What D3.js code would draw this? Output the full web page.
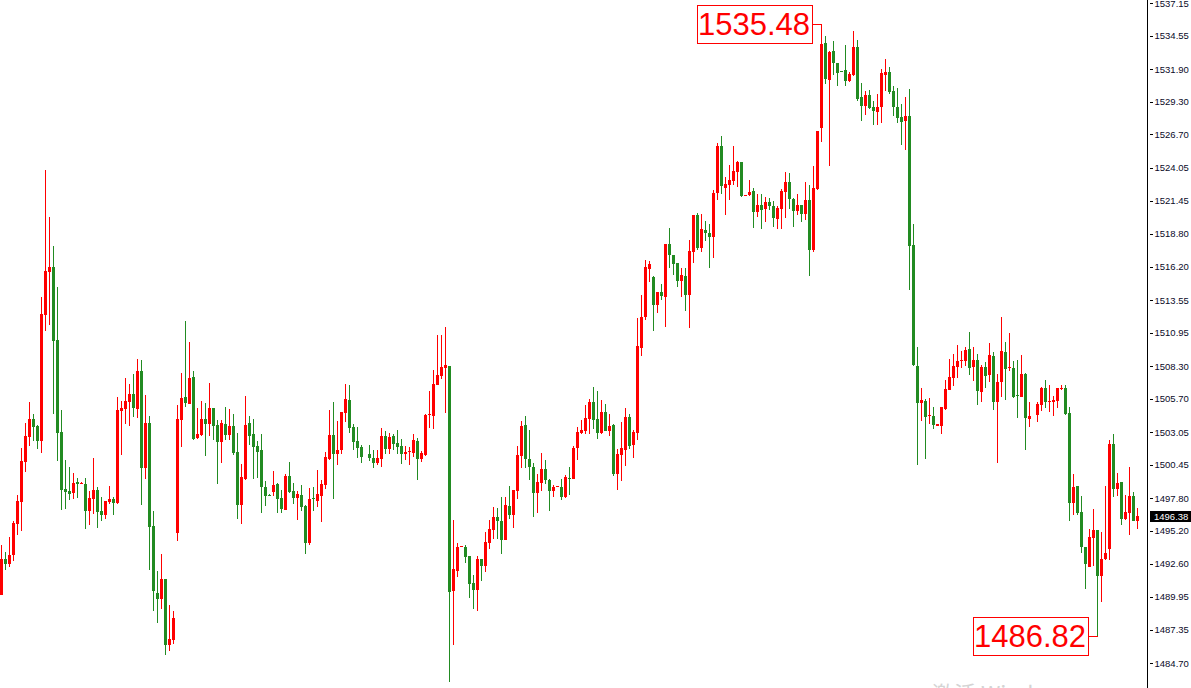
<!DOCTYPE html>
<html><head><meta charset="utf-8">
<script src="https://cdn.jsdelivr.net/npm/d3@7"></script>
<style>html,body{margin:0;padding:0;background:#fff;overflow:hidden}</style>
</head><body>
<svg id="c" width="1191" height="688"></svg>
<script>
const open=[1490.11,1492.97,1492.57,1493.29,1495.75,1497.50,1500.67,1502.66,1504.09,1503.53,
1502.34,1512.36,1515.78,1516.17,1510.37,1503.06,1498.53,1498.37,1498.21,1499.09,
1498.93,1498.93,1496.79,1497.74,1498.45,1496.79,1496.47,1497.50,1497.74,1497.42,
1504.73,1504.88,1505.44,1506.08,1504.88,1507.91,1500.19,1503.77,1495.59,1490.27,
1489.79,1491.38,1486.13,1486.53,1495.04,1504.01,1505.84,1505.28,1507.43,1502.58,
1502.82,1504.09,1503.69,1504.96,1503.61,1502.26,1503.69,1502.82,1503.53,1501.47,
1497.26,1499.32,1503.77,1502.90,1501.94,1501.62,1498.69,1498.05,1498.29,1498.93,
1497.82,1496.87,1499.56,1498.37,1497.82,1498.05,1497.18,1494.24,1497.76,1497.58,
1497.98,1498.85,1500.91,1502.82,1501.31,1501.62,1504.57,1505.60,1503.45,1502.34,
1501.86,null,1501.31,1500.99,1500.59,1500.91,1502.74,1501.70,1502.74,1502.18,
1501.94,1501.31,1501.45,1501.39,1502.34,1500.91,1501.23,1504.39,1504.33,1506.79,
1507.51,1508.14,1508.30,1490.43,1492.02,1493.90,1493.92,1493.21,1491.06,1490.51,
1492.97,1492.41,1494.24,1495.27,1496.31,1495.99,1494.48,1497.18,1496.47,1498.37,
1501.15,1503.61,1500.91,1500.27,1498.21,1499.01,1500.11,1499.24,1498.37,1498.67,
1498.69,1497.90,1499.42,1499.32,1501.78,1502.98,1503.14,1504.09,1505.44,1504.09,
1502.98,1504.65,1503.14,1503.61,1499.72,1501.23,1501.62,1504.25,1502.02,1502.98,
1509.73,1512.20,1516.01,1515.37,1513.15,1514.18,1513.79,1518.00,1517.12,1516.49,
1515.06,1515.45,1513.95,1517.36,1520.31,1517.68,1519.11,1518.87,1518.56,1522.05,
1525.79,1522.45,1522.69,1523.01,1523.72,1524.52,1521.86,1521.90,1522.21,1520.55,
1521.10,1520.78,1521.34,1521.02,1519.99,1520.78,1522.13,1522.93,1521.58,1520.62,
1521.10,1520.39,1521.50,1517.52,1522.37,1527.22,1533.97,1531.03,1533.34,1532.38,
1531.69,1531.82,1530.95,1531.43,1533.65,1529.68,1528.97,1529.84,1528.89,1528.49,
1528.89,1531.43,1531.67,1530.16,1528.89,1528.09,1527.77,1528.17,1517.92,1508.30,
1505.36,1505.52,1504.31,1504.33,1503.53,1503.53,1504.88,1506.39,1507.35,1508.22,
1508.68,1508.70,1509.65,1508.22,1508.78,1506.24,1508.22,1507.59,1509.10,1505.44,
1507.03,1509.41,1508.20,1508.14,1505.94,1505.84,1507.67,1504.09,null,1504.41,
1505.20,1506.55,1505.50,1505.44,1505.52,1506.53,1506.55,1504.57,1497.42,1498.77,
1496.71,1493.92,1492.33,1494.64,1495.27,1491.61,1492.97,1493.76,1502.10,1498.53,
1499.09,1496.15,1496.63,1497.98,1495.99];
const high=[1494.08,1493.53,1494.72,1495.99,1498.05,1501.78,1503.77,1505.44,1504.49,1503.61,
1513.79,1523.88,1520.15,1517.84,1514.59,1504.81,1500.83,1500.27,1499.80,1499.40,
1499.05,1499.40,1498.37,1500.99,1498.69,1497.90,1497.58,1498.77,1497.90,1505.84,
1505.52,1507.35,1506.87,1507.67,1508.86,1508.78,1506.00,1504.33,1496.79,1492.02,
1493.37,1491.38,1489.31,1488.84,1505.20,1507.75,1511.88,1510.21,1507.91,1504.96,
1505.52,1505.36,1506.95,1504.96,1504.01,1504.01,1505.05,1504.88,1504.49,1502.98,
1500.51,1505.92,1504.33,1504.09,1502.34,1502.90,1499.17,1498.10,1499.96,1499.01,
1498.45,1499.72,1500.67,1499.01,1498.37,1498.85,1497.26,1498.61,1498.69,1500.03,
1499.24,1501.47,1504.81,1505.44,1503.93,1504.65,1506.87,1506.79,1503.69,1503.45,
1502.02,null,1502.02,1501.62,1501.62,1503.37,1503.14,1502.98,1502.90,1503.22,
1502.50,1501.94,1501.86,1502.90,1502.58,1501.55,1504.49,1506.32,1507.99,1510.77,
1510.77,1511.40,1508.30,1496.07,1494.24,1493.96,1494.08,1493.21,1491.70,1493.21,
1492.97,1495.12,1496.07,1497.10,1497.02,1497.90,1497.90,1498.77,1498.45,1501.94,
1503.93,1504.33,1503.22,1500.59,1499.72,1501.39,1500.83,1499.32,1498.85,1498.73,
1499.32,1499.64,1500.27,1501.94,1503.45,1504.01,1505.20,1505.68,1506.63,1506.32,
1505.60,1505.28,1504.49,1503.69,1501.70,1503.85,1504.96,1504.49,1503.22,1512.12,
1513.95,1516.73,1516.65,1515.45,1514.18,1514.82,1518.00,1519.27,1517.12,1516.49,
1516.09,1516.09,1518.32,1520.31,1520.47,1520.39,1519.83,1519.59,1522.29,1526.03,
1526.58,1523.32,1524.28,1525.79,1524.60,1524.52,1521.92,1523.09,1522.45,1521.97,
1521.97,1521.74,1521.66,1521.42,1521.02,1522.37,1523.72,1523.64,1521.66,1521.97,
1521.10,1522.93,1522.69,1524.20,1526.98,1535.48,1534.50,1533.34,1534.13,1532.38,
1531.70,1533.81,1531.67,1534.93,1534.21,1530.79,1530.16,1530.24,1529.36,1529.92,
1531.91,1532.70,1532.06,1530.55,1530.40,1529.12,1529.68,1530.32,1519.59,1509.81,
1506.55,1505.68,1505.76,1505.05,1503.72,1505.05,1507.19,1508.86,1509.26,1509.97,
1509.49,1509.81,1511.00,1509.81,1509.26,1508.38,1508.62,1510.13,1509.41,1507.67,
1512.20,1510.21,1510.92,1508.70,1508.78,1509.18,1507.75,1505.44,null,1505.44,
1506.63,1507.19,1506.79,1505.92,1506.55,1506.79,1506.79,1505.05,1499.72,1498.77,
1497.98,1493.92,1495.35,1496.95,1495.27,1495.12,1498.77,1502.42,1502.90,1499.80,
1499.09,1498.05,1500.27,1498.29,1497.02];
const low=[1490.11,1492.10,1492.33,1492.81,1494.88,1495.20,1499.88,1501.94,1502.34,1501.70,
1501.39,1511.09,1511.56,1504.49,1500.75,1496.87,1496.95,1497.66,1497.74,1497.82,
1498.90,1495.35,1495.67,1496.55,1495.43,1495.99,1496.15,1497.34,1496.47,1497.34,
1501.23,1503.69,1503.53,1504.25,1504.17,1497.26,1499.32,1492.10,1488.84,1487.88,
1489.00,1485.34,1485.66,1486.21,1494.40,1501.86,1505.05,1505.28,1502.42,1502.50,
1502.74,1501.15,1502.74,1502.42,1498.93,1500.59,1502.42,1502.42,1501.23,1496.15,
1495.75,1499.24,1502.02,1499.32,1499.40,1496.63,1497.18,1497.95,1497.98,1496.63,
1496.63,1496.87,1498.21,1497.34,1496.07,1496.79,1493.37,1494.08,1496.79,1497.10,
1495.91,1498.53,1500.83,1497.74,1500.43,1501.31,1503.85,1502.98,1501.62,1500.99,
1500.59,null,1500.75,1500.19,1500.43,1500.27,1501.31,1501.31,1501.62,1501.31,
1500.51,1500.83,1500.43,1501.07,1499.24,1500.67,1501.15,1503.37,1503.29,1506.79,
1507.27,1504.57,1483.19,1486.13,1491.53,1493.88,1492.65,1489.87,1489.00,1488.84,
1491.22,1491.93,1493.76,1494.56,1494.56,1493.37,1494.48,1496.15,1495.43,1497.74,
1500.19,1500.19,1499.24,1496.31,1496.63,1498.37,1498.93,1496.79,1497.90,1498.65,
1497.66,1497.82,1498.05,1499.32,1500.83,1502.90,1502.90,1502.90,1503.29,1502.50,
1502.90,1503.14,1502.74,1499.56,1498.45,1499.17,1500.35,1501.70,1500.99,1502.42,
1509.10,1511.96,1514.98,1511.09,1512.52,1513.55,1511.40,1516.09,1515.54,1514.59,
1513.79,1512.67,1511.32,1516.49,1517.52,1517.36,1518.24,1516.09,1516.89,1521.50,
1521.97,1520.31,1521.50,1522.69,1522.53,1521.74,1521.84,1521.82,1519.27,1520.15,
1519.19,1519.75,1520.70,1519.35,1519.19,1519.19,1520.07,1520.78,1519.35,1520.31,
1519.75,1519.91,1515.45,1517.36,1522.29,1526.10,1530.71,1524.20,1531.43,1530.55,
1531.64,1530.55,1530.87,1531.35,1529.36,1527.77,1528.25,1528.73,1527.46,1527.46,
1527.62,1530.16,1529.92,1528.17,1527.62,1525.87,1525.47,1514.34,1508.30,1500.43,
1503.93,1500.91,1503.69,1503.29,1503.50,1502.90,1504.81,1506.39,1506.71,1507.35,
1508.14,1508.30,1507.59,1507.11,1505.20,1505.44,1506.55,1507.03,1504.81,1500.59,
1505.84,1505.60,1507.91,1505.76,1504.17,1505.84,1501.62,1503.45,null,1503.85,
1504.73,1504.96,1504.65,1504.33,1504.96,1506.39,1504.41,1495.99,1496.47,1496.47,
1493.45,1490.59,1492.33,1492.41,1486.82,1489.55,1492.89,1492.89,1497.90,1497.98,
1495.67,1496.07,1494.88,1495.99,1495.35];
const close=[1492.97,1492.57,1493.29,1495.83,1497.58,1500.75,1502.74,1504.09,1503.45,1502.34,
1512.44,1515.86,1516.17,1510.29,1502.98,1498.45,1498.29,1498.13,1499.01,1498.93,
1499.01,1496.79,1497.82,1498.45,1496.71,1496.47,1497.58,1497.74,1497.42,1504.81,
1504.96,1505.52,1506.08,1504.96,1507.91,1500.19,1503.77,1495.51,1490.43,1489.79,
1491.38,1486.13,1486.61,1488.28,1504.09,1505.76,1505.36,1507.35,1502.50,1502.90,
1504.09,1503.69,1504.96,1503.53,1502.26,1503.77,1502.82,1503.53,1501.39,1497.26,
1499.48,1503.61,1502.74,1501.86,1501.47,1498.69,1497.98,1497.98,1498.85,1497.74,
1496.95,1499.56,1498.29,1497.82,1498.13,1497.10,1494.24,1497.74,1497.72,1498.13,
1498.93,1501.07,1502.82,1501.31,1501.62,1504.65,1505.68,1503.37,1502.26,1501.78,
1501.07,null,1500.99,1500.59,1500.99,1502.74,1501.70,1502.66,1502.10,1501.86,
1501.31,1501.47,1501.49,1502.42,1500.91,1501.39,1504.41,1504.43,1506.87,1507.59,
1508.22,1508.38,1490.35,1492.17,1493.92,1493.94,1493.13,1490.98,1490.51,1492.97,
1492.41,1494.32,1495.35,1496.31,1495.99,1494.48,1497.26,1496.47,1498.45,1501.23,
1503.53,1500.91,1500.27,1498.21,1499.09,1500.11,1499.24,1498.37,1498.69,1498.71,
1497.90,1499.48,1499.38,1501.78,1503.06,1503.22,1504.17,1505.44,1504.01,1502.98,
1504.65,1503.14,1503.53,1499.72,1501.31,1501.78,1504.25,1501.94,1503.06,1509.89,
1512.20,1516.17,1516.41,1513.15,1514.18,1513.87,1518.00,1517.12,1516.41,1515.06,
1515.54,1513.95,1517.44,1520.31,1517.68,1519.19,1518.87,1518.56,1522.05,1525.79,
1522.61,1522.77,1523.09,1523.80,1524.52,1521.82,1521.90,1522.13,1520.55,1521.10,
1520.70,1521.34,1521.02,1520.07,1520.86,1522.21,1522.93,1521.58,1520.62,1521.10,
1520.39,1521.50,1517.52,1522.45,1526.98,1533.89,1531.11,1533.26,1532.38,1531.59,
1531.65,1530.95,1531.51,1533.65,1529.52,1528.97,1529.84,1528.81,1528.57,1528.89,
1531.59,1531.67,1530.08,1528.89,1528.01,1527.70,1528.17,1517.84,1508.38,1505.36,
1505.60,1504.25,1504.35,1503.61,1503.69,1505.05,1506.47,1507.43,1508.30,1508.70,
1508.72,1509.57,1508.14,1508.78,1506.32,1508.22,1507.51,1509.18,1505.44,1507.03,
1509.49,1508.06,1508.24,1505.84,1505.90,1507.67,1504.17,1504.33,null,1505.28,
1506.55,1505.44,1505.54,1505.60,1506.55,1506.57,1504.49,1497.42,1498.69,1496.63,
1493.92,1492.57,1494.72,1495.27,1491.61,1492.97,1493.45,1502.10,1498.53,1499.01,
1496.15,1496.71,1497.98,1495.99,1496.38];

const tickLabels=["1537.15","1534.55","1531.90","1529.30","1526.70","1524.05","1521.45","1518.80","1516.20","1513.55","1510.95","1508.30","1505.70","1503.05","1500.45","1497.80","1495.20","1492.60","1489.95","1487.35","1484.70"];
const lastPrice=1496.38;
const markedHigh=1535.48;
const markedLow=1486.82;
const watermark="激活 Windows";

const upColor="#ff0000", downColor="#228b22";
const svg=d3.select("#c");
const n=open.length;
const x=d3.scaleLinear().domain([0,n-1]).range([1.5,1.5+4*(n-1)]);
const y=d3.scaleLinear().domain([1484.70,1537.15]).range([663,3]);

const data=d3.range(n).filter(i=>open[i]!=null).map(i=>({i,o:open[i],h:high[i],l:low[i],c:close[i]}));
const col=d=>d.c>=d.o?upColor:downColor;

// watermark
svg.append("text").attr("x",932).attr("y",702).attr("font-family","'Noto Sans CJK SC','Noto Sans',sans-serif")
  .attr("font-size",22).attr("fill","#d4d4d4").text(watermark);

const g=svg.append("g").attr("shape-rendering","crispEdges");
g.selectAll("line.w").data(data).join("line").attr("class","w")
  .attr("x1",d=>x(d.i)).attr("x2",d=>x(d.i))
  .attr("y1",d=>y(d.h)).attr("y2",d=>y(d.l))
  .attr("stroke",col).attr("stroke-width",1);
g.selectAll("rect.b").data(data).join("rect").attr("class","b")
  .attr("x",d=>x(d.i)-1.5).attr("width",3)
  .attr("y",d=>{const a=y(d.o),b=y(d.c);return Math.abs(a-b)<1?Math.round((a+b)/2-0.5):Math.min(a,b);})
  .attr("height",d=>Math.max(1,Math.abs(y(d.o)-y(d.c))))
  .attr("fill",col);

// high / low annotations
const hi=data.find(d=>d.h===markedHigh), lo=data.find(d=>d.l===markedLow);
function note(d,val){
  const cx=x(d.i), cy=y(val), bw=115, bh=38, right=cx-10;
  const ga=svg.append("g");
  ga.append("line").attr("x1",right).attr("x2",cx).attr("y1",cy+0.5).attr("y2",cy+0.5)
    .attr("stroke","#ff0000").attr("shape-rendering","crispEdges");
  ga.append("rect").attr("x",right-bw+0.5).attr("y",Math.round(cy-bh/2)+0.5).attr("width",bw).attr("height",bh)
    .attr("fill","#fff").attr("stroke","#ff0000").attr("shape-rendering","crispEdges");
  ga.append("text").attr("x",right-bw/2).attr("y",cy+11).attr("text-anchor","middle")
    .attr("font-family","'Liberation Sans',Arial,sans-serif").attr("font-size",31).attr("fill","#ff0000")
    .text(d3.format(".2f")(val));
}
note(hi,markedHigh);
note(lo,markedLow);

// price axis
const axX=1147.5;
svg.append("line").attr("x1",axX).attr("x2",axX).attr("y1",0).attr("y2",688).attr("stroke","#000").attr("shape-rendering","crispEdges");
const tickVals=tickLabels.map(Number);
const ax=svg.append("g").attr("transform",`translate(${axX},0)`)
  .call(d3.axisRight(y).tickValues(tickVals).tickFormat((d,i)=>tickLabels[i]).tickSize(5).tickPadding(2));
ax.select(".domain").remove();
ax.selectAll(".tick line").attr("x1",2).attr("x2",5).attr("stroke","#000").attr("shape-rendering","crispEdges");
ax.selectAll(".tick text").attr("font-family","'Liberation Sans',Arial,sans-serif").attr("font-size",9.5).attr("fill","#0a0a28");

// current price tag
const ly=Math.round(y(lastPrice));
svg.append("rect").attr("x",1150).attr("y",ly-5).attr("width",41).attr("height",11).attr("fill","#000");
svg.append("text").attr("x",1154).attr("y",ly+3.5).attr("font-family","'Liberation Sans',Arial,sans-serif")
  .attr("font-size",9.5).attr("fill","#fff").text(d3.format(".2f")(lastPrice));
</script>
</body></html>
